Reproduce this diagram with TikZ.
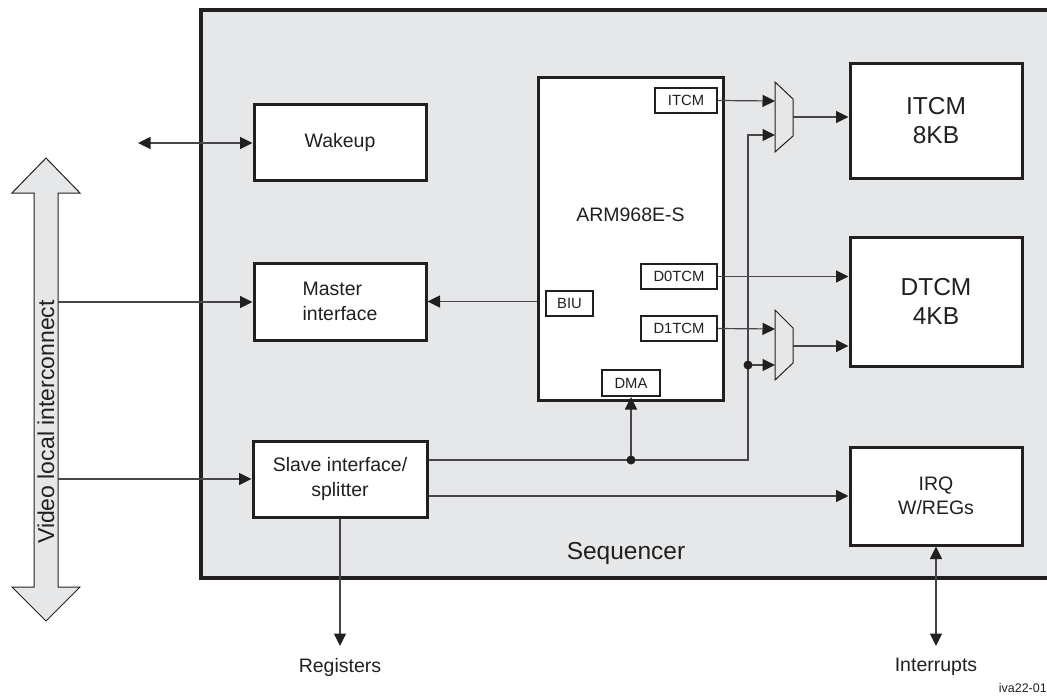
\documentclass[tikz,border=0pt]{standalone}
\usepackage{fontspec}
\setmainfont{Liberation Sans}
\usetikzlibrary{arrows.meta, positioning}

\definecolor{ink}{RGB}{35,31,32}
\definecolor{seqgray}{RGB}{230,231,232}
\definecolor{wire}{RGB}{70,70,72}

\begin{document}
\begin{tikzpicture}[
    x=1pt, y=-1pt,
    every node/.style = {text=ink, inner sep=0pt},
    lbl/.style    = {font=\fontsize{19.5}{24.5}\selectfont},
    biglbl/.style = {font=\fontsize{24.5}{29}\selectfont},
    block/.style  = {rectangle, draw=ink, line width=3pt, fill=white,
                     align=center, lbl},
    mem/.style    = {block, biglbl},
    port/.style   = {rectangle, draw=ink, line width=2pt, fill=white,
                     minimum height=25pt, font=\fontsize{14.8}{17}\selectfont},
    wire/.style   = {draw=wire, line width=1.2pt},
    tip/.tip      = {Triangle[length=12.5pt, width=12pt, color=ink]},
    arr/.style    = {wire, -tip},
    dbl/.style    = {wire, tip-tip},
    dot/.style    = {circle, fill=ink, minimum size=9pt},
    mux/.style    = {draw=ink, line width=1pt, fill=seqgray}
  ]
  \clip (0,0) rectangle (1047,696);

  % sequencer frame
  \draw[draw=ink, line width=3.5pt, fill=seqgray] (201,10) rectangle (1060,578);
  \node[biglbl] (seqlbl) at (626,553) {Sequencer};

  % video local interconnect
  \draw[draw=ink, line width=1pt, fill=seqgray]
    (46,158) -- (80,193) -- (58,193) -- (58,587) -- (80,587) -- (46,621)
    -- (12,587) -- (34,587) -- (34,193) -- (12,193) -- cycle;
  \node[rotate=90, font=\fontsize{23}{28}\selectfont] (vli) at (46,422) {Video local interconnect};

  % blocks
  \node[block, minimum width=172pt, minimum height=76pt] (wake)   at (340,142)   {Wakeup};
  \node[block, minimum width=172pt, minimum height=77pt, align=left] (master) at (340,301.5) {Master\\interface};
  \node[block, minimum width=174pt, minimum height=76pt] (slave)  at (340,479)   {Slave interface/\\splitter};

  \node[block, minimum width=185pt, minimum height=323pt] (arm) at (630.5,238.5) {};
  \node[lbl] (armlbl) at (630.5,215) {ARM968E-S};
  \node[port, minimum width=62pt] (itcmp) at (686,100.5) {ITCM};
  \node[port, minimum width=76pt] (d0p)   at (679,276.5) {D0TCM};
  \node[port, minimum width=47pt] (biu)   at (569.5,303.5) {BIU};
  \node[port, minimum width=76pt] (d1p)   at (679,328.5) {D1TCM};
  \node[port, minimum width=58pt, minimum height=26pt] (dmap) at (631,383) {DMA};

  \node[mem, minimum width=172pt, minimum height=115pt] (itcm) at (936,120.5) {ITCM\\8KB};
  \node[mem, minimum width=172pt, minimum height=129pt] (dtcm) at (936,301.5) {DTCM\\4KB};
  \node[block, minimum width=172pt, minimum height=98pt] (irq) at (936,496) {IRQ\\W/REGs};

  % muxes
  \draw[mux] (775,82) -- (793,99) -- (793,136) -- (775,152) -- cycle;
  \coordinate (m1a) at (775,101);
  \coordinate (m1b) at (775,135);
  \coordinate (m1o) at (793,117);
  \draw[mux] (775,310) -- (793,328) -- (793,363) -- (775,380) -- cycle;
  \coordinate (m2a) at (775,329);
  \coordinate (m2b) at (775,365);
  \coordinate (m2o) at (793,346);

  % free ends
  \coordinate (wk)     at (138,143);
  \coordinate (vb1)    at (58,302);
  \coordinate (vb2)    at (58,479);
  \coordinate (bus)    at (748,460);
  \coordinate (dmaj)   at (631,460);
  \coordinate (regend) at (340,646);
  \coordinate (intend) at (936,646);

  % outside labels
  \node[lbl] (regs) at (340,667) {Registers};
  \node[lbl] (ints) at (936,667) {Interrupts};
  \node[font=\fontsize{12.5}{15}\selectfont, anchor=east] (figid) at (1047,688) {iva22-01};

  % edges
  \draw[arr] (itcmp.east) -- (m1a);
  \draw[arr] (m1o) -- (m1o -| itcm.west);
  \draw[arr] (d0p.east) -- (d0p.east -| dtcm.west);
  \draw[arr] (d1p.east) -- (m2a);
  \draw[arr] (m2o) -- (m2o -| dtcm.west);
  \draw[arr] (slave.east |- bus) -- (bus) |- (m1b);
  \draw[arr] (bus |- m2b) -- (m2b);
  \draw[arr] (dmaj) -- (dmap.south);
  \draw[arr] (slave.east |- irq.west) -- (irq.west);
  \draw[arr] (arm.west |- master.east) -- (master.east);
  \draw[arr] (vb1) -- (vb1 -| master.west);
  \draw[arr] (vb2) -- (vb2 -| slave.west);
  \draw[dbl] (wk) -- (wk -| wake.west);
  \draw[arr] (slave.south) -- (regend);
  \draw[dbl] (irq.south) -- (intend);
  \node[dot] (j1) at (bus |- m2b) {};
  \node[dot] (j2) at (dmaj) {};

\end{tikzpicture}
\end{document}
